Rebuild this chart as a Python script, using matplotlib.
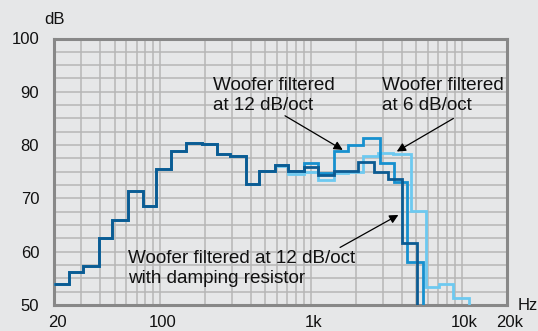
import matplotlib
matplotlib.use('Agg')
import matplotlib.pyplot as plt
import matplotlib.transforms as mtransforms
from matplotlib.ticker import LogLocator, MultipleLocator, NullFormatter

plt.rcParams['font.family'] = ['Liberation Sans', 'DejaVu Sans']

# 1/3-octave levels below 580 Hz are the same for all three variants
low_edges = [20, 25, 31, 39.5, 48, 61, 77, 94, 118, 148, 189, 238, 292, 371, 454, 580]
low_levels = [53.9, 56.1, 57.4, 62.5, 65.9, 71.4, 68.6, 75.5, 78.9, 80.4, 80.2,
              78.4, 78.0, 72.7, 75.1]

# woofer filtered at 12 dB/oct with damping resistor
damped_edges = [705, 905, 1117, 1415, 2068, 2628, 3256, 4012, 5045, 6000]
damped_levels = [76.2, 75.2, 75.8, 74.3, 75.2, 76.9, 75.0, 73.6, 61.6, 40]

# woofer filtered at 12 dB/oct
f12_edges = [705, 905, 1117, 1415, 1776, 2233, 2881, 3567, 4331, 5529, 6500]
f12_levels = [76.2, 75.2, 76.6, 74.8, 78.8, 80.1, 81.3, 76.6, 73.1, 58.1, 40]

# woofer filtered at 6 dB/oct
f6_edges = [705, 905, 1117, 1415, 1776, 2233, 2808, 3530, 4604, 5789, 7124,
            8823, 11210, 13000]
f6_levels = [76.0, 74.6, 75.0, 73.5, 74.7, 75.0, 77.9, 78.6, 78.3, 67.7, 53.4,
             53.9, 51.4, 40]

x_ticks = [20, 100, 1000, 10000, 20000]
x_labels = ['20', '100', '1k', '10k', '20k']
y_ticks = [50, 60, 70, 80, 90, 100]

bg = '#e6e7e8'
dark = '#0c5b92'
mid = '#1690cf'
light = '#6dc9f0'

fig = plt.figure(figsize=(5.38, 3.31), dpi=100, facecolor=bg)
ax = fig.add_axes([54.5 / 538, 1 - 305 / 331, (507 - 54.5) / 538, (305 - 38.5) / 331])
ax.set_facecolor(bg)
ax.set_xscale('log')
ax.set_xlim(20, 20000)
ax.set_ylim(50, 100)

# grid at every 1-9 step of each decade and every 2.5 dB
ax.xaxis.set_minor_locator(LogLocator(base=10, subs=range(2, 10)))
ax.xaxis.set_minor_formatter(NullFormatter())
ax.set_xticks(x_ticks, x_labels)
ax.set_yticks(y_ticks)
ax.yaxis.set_minor_locator(MultipleLocator(2.5))
ax.grid(which='both', color='#b6b6b6', lw=1.1)
ax.set_axisbelow(True)
ax.tick_params(which='both', length=0, labelsize=12, colors='#111111')
ax.tick_params(axis='x', pad=7)
ax.tick_params(axis='y', pad=11)
shift = mtransforms.ScaledTranslation(3 / 100, 0, fig.dpi_scale_trans)
for lbl in ax.get_xticklabels():
    lbl.set_transform(lbl.get_transform() + shift)
for sp in ax.spines.values():
    sp.set_color('#888888')
    sp.set_linewidth(2.2)

ax.stairs(low_levels + f6_levels, low_edges + f6_edges,
          baseline=None, color=light, lw=2, zorder=3)
ax.stairs(low_levels + f12_levels, low_edges + f12_edges,
          baseline=None, color=mid, lw=2, zorder=4)
ax.stairs(low_levels + damped_levels, low_edges + damped_edges,
          baseline=None, color=dark, lw=2, zorder=5)

txt = dict(fontsize=13.6, color='#111111', va='center', ha='left', zorder=6)
ax.text(225, 89.3, 'Woofer filtered\nat 12 dB/oct', **txt)
ax.text(2984, 89.3, 'Woofer filtered\nat 6 dB/oct', **txt)
ax.text(61.7, 56.8, 'Woofer filtered at 12 dB/oct\nwith damping resistor', **txt)

arrow = dict(arrowstyle='-|>', color='black', lw=0.9, mutation_scale=13,
             shrinkA=0, shrinkB=0)
ax.annotate('', xy=(1630, 79.1), xytext=(675, 85.5), arrowprops=arrow, zorder=6)
ax.annotate('', xy=(3717, 78.8), xytext=(8823, 85.0), arrowprops=arrow, zorder=6)
ax.annotate('', xy=(3811, 66.9), xytext=(1564, 60.8), arrowprops=arrow, zorder=6)

fig.text(54.5 / 538, 1 - 20 / 331, 'dB', fontsize=12, ha='center', va='center',
         color='#111111')
fig.text(527.5 / 538, 1 - 306 / 331, 'Hz', fontsize=12, ha='center', va='center',
         color='#111111')

fig.savefig('out.png', dpi=100, facecolor=bg)
